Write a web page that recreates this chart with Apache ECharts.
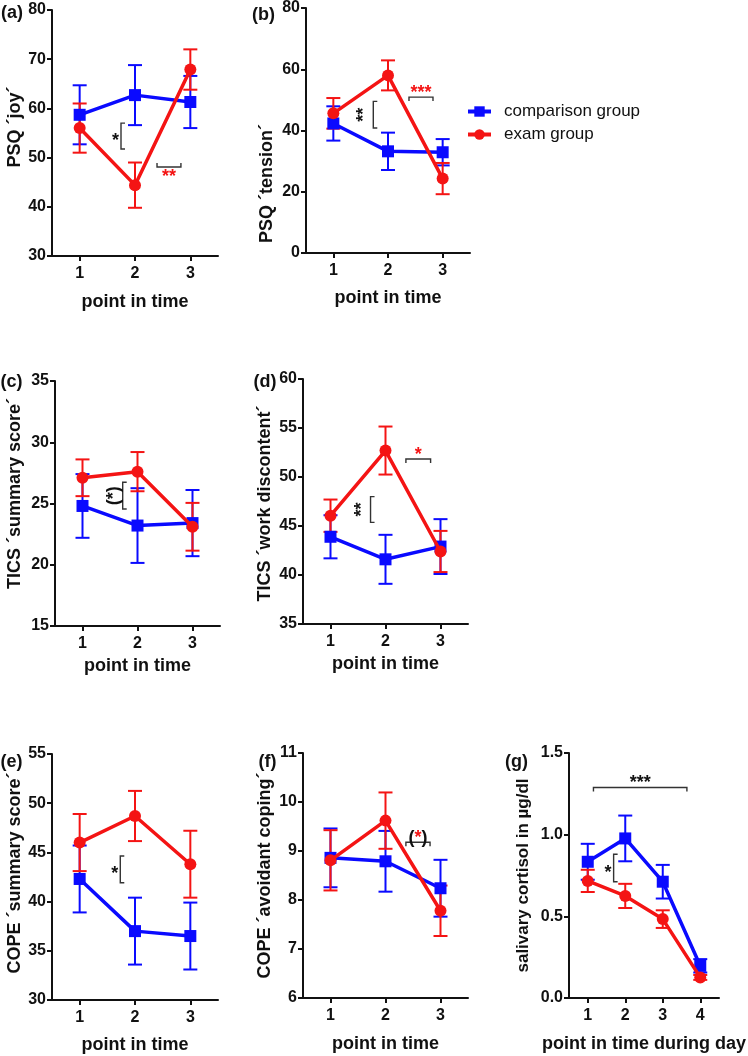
<!DOCTYPE html>
<html>
<head>
<meta charset="utf-8">
<script src="https://cdn.jsdelivr.net/npm/echarts@6/dist/echarts.min.js"></script>
<style>
html,body{margin:0;padding:0;background:#fff;}
#chart{width:748px;height:1056px;}
</style>
</head>
<body>
<div id="chart"></div>
<script>
// ---------------- DATA ----------------
const timeCats = ['1', '2', '3'];
const dayCats = ['1', '2', '3', '4'];
const groupNames = ['comparison group', 'exam group'];

// (a) PSQ joy
const aComp = [58.7, 62.7, 61.3];
const aCompErr = [6.0, 6.1, 5.3];
const aExam = [56.0, 44.4, 67.9];
const aExamErr = [5.0, 4.6, 4.1];
const aTicks = [30, 40, 50, 60, 70, 80];

// (b) PSQ tension
const bComp = [42.3, 33.2, 32.9];
const bCompErr = [5.6, 6.1, 4.3];
const bExam = [45.6, 58.0, 24.3];
const bExamErr = [5.0, 4.9, 5.1];
const bTicks = [0, 20, 40, 60, 80];

// (c) TICS summary score
const cComp = [24.8, 23.2, 23.4];
const cCompErr = [2.6, 3.05, 2.7];
const cExam = [27.1, 27.6, 23.1];
const cExamErr = [1.5, 1.6, 1.95];
const cTicks = [15, 20, 25, 30, 35];

// (d) TICS work discontent
const dComp = [43.9, 41.6, 42.9];
const dCompErr = [2.2, 2.5, 2.8];
const dExam = [46.05, 52.7, 42.4];
const dExamErr = [1.65, 2.45, 2.1];
const dTicks = [35, 40, 45, 50, 55, 60];

// (e) COPE summary score
const eComp = [42.3, 37.0, 36.5];
const eCompErr = [3.4, 3.4, 3.4];
const eExam = [46.0, 48.7, 43.8];
const eExamErr = [2.9, 2.55, 3.4];
const eTicks = [30, 35, 40, 45, 50, 55];

// (f) COPE avoidant coping
const fComp = [8.86, 8.79, 8.24];
const fCompErr = [0.6, 0.62, 0.58];
const fExam = [8.81, 9.62, 7.78];
const fExamErr = [0.615, 0.575, 0.515];
const fTicks = [6, 7, 8, 9, 10, 11];

// (g) salivary cortisol
const gComp = [0.834, 0.977, 0.712, 0.197];
const gCompErr = [0.11, 0.14, 0.103, 0.041];
const gExam = [0.717, 0.625, 0.483, 0.126];
const gExamErr = [0.068, 0.074, 0.054, 0.015];
const gTicks = [0.0, 0.5, 1.0, 1.5];

// significance annotations: [kind, x1, x2, y1, y2, text, colour, extra]
const aNotes = [['v', 1.747, 1.747, 51.75, 57.0, '*', 'k', ''], ['h', 2.398, 2.83, 48.1, 48.1, '**', 'r', 'up']];
const bNotes = [['v', 1.731, 1.731, 40.8, 49.5, '**', 'k', 'rot'], ['h', 2.384, 2.823, 50.9, 50.9, '***', 'r', 'down']];
const cNotes = [['v', 1.731, 1.731, 24.55, 26.73, '(*)', 'k', 'rot']];
const dNotes = [['v', 1.728, 1.728, 45.37, 48.0, '**', 'k', 'rot'], ['h', 2.371, 2.82, 51.84, 51.84, '*', 'r', 'down']];
const eNotes = [['v', 1.734, 1.734, 41.92, 44.63, '*', 'k', '']];
const fNotes = [['h', 2.371, 2.81, 9.18, 9.18, '(*)', 'mix', 'down']];
const gNotes = [['v', 1.69, 1.69, 0.712, 0.88, '*', 'k', ''], ['h', 1.152, 3.644, 1.289, 1.289, '***', 'k', 'down']];

const yNames = ['PSQ \u00B4joy\u00B4', 'PSQ \u00B4tension\u00B4', 'TICS \u00B4summary score\u00B4', 'TICS \u00B4work discontent\u00B4',
  'COPE \u00B4summary score\u00B4', 'COPE \u00B4avoidant coping\u00B4', 'salivary cortisol in \u00B5g/dl'];
const xNames = ['point in time', 'point in time', 'point in time', 'point in time', 'point in time', 'point in time', 'point in time during day'];
const panelTags = ['(a)', '(b)', '(c)', '(d)', '(e)', '(f)', '(g)'];

// ---------------- STYLE / LAYOUT ----------------
const BLUE = '#0a0aff';
const RED = '#f41414';
const FONT = '"Liberation Sans", Arial, Helvetica, sans-serif';

const panels = [
  {cats: timeCats, comp: aComp, compErr: aCompErr, exam: aExam, examErr: aExamErr, ticks: aTicks, notes: aNotes,
   grid: {left: 52, top: 10, width: 166, height: 246}, yGap: 28, yShift: -6, xGap: 37, yFont: 18, tag: [12, 13]},
  {cats: timeCats, comp: bComp, compErr: bCompErr, exam: bExam, examErr: bExamErr, ticks: bTicks, notes: bNotes,
   grid: {left: 306, top: 8, width: 164, height: 245}, yGap: 30, yShift: 53, xGap: 36, yFont: 18, tag: [263.5, 15]},
  {cats: timeCats, comp: cComp, compErr: cCompErr, exam: cExam, examErr: cExamErr, ticks: cTicks, notes: cNotes,
   grid: {left: 55, top: 381, width: 165, height: 245}, yGap: 31, yShift: -10, xGap: 31, yFont: 18, tag: [11.5, 382]},
  {cats: timeCats, comp: dComp, compErr: dCompErr, exam: dExam, examErr: dExamErr, ticks: dTicks, notes: dNotes,
   grid: {left: 303, top: 379, width: 165, height: 245}, yGap: 29, yShift: 2, xGap: 31, yFont: 18, tag: [265, 382]},
  {cats: timeCats, comp: eComp, compErr: eCompErr, exam: eExam, examErr: eExamErr, ticks: eTicks, notes: eNotes,
   grid: {left: 52, top: 754, width: 166, height: 246}, yGap: 28, yShift: -4, xGap: 36, yFont: 18, tag: [11.5, 762]},
  {cats: timeCats, comp: fComp, compErr: fCompErr, exam: fExam, examErr: fExamErr, ticks: fTicks, notes: fNotes,
   grid: {left: 303, top: 753, width: 165, height: 245}, yGap: 29, yShift: 0, xGap: 37, yFont: 18, tag: [267.5, 762]},
  {cats: dayCats, comp: gComp, compErr: gCompErr, exam: gExam, examErr: gExamErr, ticks: gTicks, notes: gNotes,
   grid: {left: 569, top: 753, width: 164, height: 245}, yGap: 37, yShift: 0, xGap: 37, yFont: 17, tag: [516.5, 762], dec: 1}
];

function errRender(color) {
  return function (params, api) {
    const x = api.value(0), lo = api.value(1), hi = api.value(2);
    const pLo = api.coord([x, lo]), pHi = api.coord([x, hi]);
    const w = 7;
    const st = {stroke: color, lineWidth: 2, fill: null};
    return {type: 'group', children: [
      {type: 'line', shape: {x1: pLo[0], y1: pLo[1], x2: pHi[0], y2: pHi[1]}, style: st},
      {type: 'line', shape: {x1: pLo[0] - w, y1: pLo[1], x2: pLo[0] + w, y2: pLo[1]}, style: st},
      {type: 'line', shape: {x1: pHi[0] - w, y1: pHi[1], x2: pHi[0] + w, y2: pHi[1]}, style: st}
    ]};
  };
}

const NOTE_FONT = 'bold 18px ' + FONT;
function noteRender(notes) {
  return function (params, api) {
    const n = notes[params.dataIndex];
    const p1 = api.coord([n[1], n[3]]);
    const p2 = api.coord([n[2], n[4]]);
    const lineSt = {stroke: '#333', lineWidth: 1.4, fill: null};
    const col = n[6] === 'r' ? RED : '#111';
    const children = [];
    let textEl;
    const baseStyle = {text: n[5], fill: col, font: NOTE_FONT};
    if (n[6] === 'mix') {
      baseStyle.text = '{k|(}{r|*}{k|)}';
      baseStyle.rich = {k: {fill: '#111', font: NOTE_FONT}, r: {fill: RED, font: NOTE_FONT}};
    }
    if (n[0] === 'v') {
      const x = p1[0];
      const yA = Math.min(p1[1], p2[1]), yB = Math.max(p1[1], p2[1]);
      children.push({type: 'polyline', shape: {points: [[x + 4, yA], [x, yA], [x, yB], [x + 4, yB]]}, style: lineSt});
      if (n[7] === 'rot') {
        textEl = {type: 'text', x: x - 9, y: (yA + yB) / 2, rotation: Math.PI / 2,
          style: Object.assign(baseStyle, {align: 'center', verticalAlign: 'middle'})};
      } else {
        textEl = {type: 'text', x: x - 2, y: (yA + yB) / 2 + 5,
          style: Object.assign(baseStyle, {align: 'right', verticalAlign: 'middle'})};
      }
    } else {
      const y = p1[1];
      const xA = p1[0], xB = p2[0];
      const dy = n[7] === 'up' ? -4 : 4;
      children.push({type: 'polyline', shape: {points: [[xA, y + dy], [xA, y], [xB, y], [xB, y + dy]]}, style: lineSt});
      if (n[7] === 'up') {
        textEl = {type: 'text', x: (xA + xB) / 2, y: y + 1,
          style: Object.assign(baseStyle, {align: 'center', verticalAlign: 'top'})};
      } else {
        textEl = {type: 'text', x: (xA + xB) / 2, y: y + 5,
          style: Object.assign(baseStyle, {align: 'center', verticalAlign: 'bottom'})};
      }
    }
    children.push(textEl);
    return {type: 'group', children: children};
  };
}

const grids = [], xAxes = [], yAxes = [], series = [], graphics = [];

panels.forEach(function (p, i) {
  grids.push(Object.assign({containLabel: false}, p.grid));
  const n = p.cats.length;
  const idx = p.cats.map(function (c, k) { return k + 1; });
  xAxes.push({
    type: 'value', gridIndex: i, min: 0.5, max: n + 0.5,
    name: xNames[i], nameLocation: 'middle', nameGap: p.xGap,
    nameTextStyle: {fontFamily: FONT, fontWeight: 'bold', fontSize: 18, color: '#111'},
    axisLine: {show: true, onZero: false, lineStyle: {color: '#111', width: 2}},
    axisTick: {show: true, customValues: idx, length: 5, lineStyle: {color: '#111', width: 2}},
    axisLabel: {show: true, customValues: idx, margin: 10, fontFamily: FONT, fontWeight: 'bold', fontSize: 16, color: '#111',
      formatter: function (v) { return p.cats[Math.round(v) - 1]; }},
    splitLine: {show: false}
  });
  const t = p.ticks;
  yAxes.push({
    type: 'value', gridIndex: i, min: t[0], max: t[t.length - 1], interval: t[1] - t[0],
    name: yNames[i], nameLocation: 'middle', nameGap: p.yGap,
    nameTextStyle: {fontFamily: FONT, fontWeight: 'bold', fontSize: p.yFont, color: '#111',
      padding: p.yShift >= 0 ? [0, 2 * p.yShift, 0, 0] : [0, 0, 0, -2 * p.yShift]},
    axisLine: {show: true, onZero: false, lineStyle: {color: '#111', width: 2}},
    axisTick: {show: true, length: 5, lineStyle: {color: '#111', width: 2}},
    axisLabel: {show: true, margin: 6, fontFamily: FONT, fontWeight: 'bold', fontSize: 16, color: '#111',
      formatter: function (v) { return p.dec ? v.toFixed(p.dec) : String(v); }},
    splitLine: {show: false}
  });
  // error bars
  series.push({
    type: 'custom', xAxisIndex: i, yAxisIndex: i, z: 2, silent: true,
    data: p.comp.map(function (m, k) { return [k + 1, m - p.compErr[k], m + p.compErr[k]]; }),
    encode: {x: 0, y: [1, 2]}, renderItem: errRender(BLUE)
  });
  series.push({
    type: 'custom', xAxisIndex: i, yAxisIndex: i, z: 3, silent: true,
    data: p.exam.map(function (m, k) { return [k + 1, m - p.examErr[k], m + p.examErr[k]]; }),
    encode: {x: 0, y: [1, 2]}, renderItem: errRender(RED)
  });
  // lines
  series.push({
    type: 'line', name: groupNames[0], xAxisIndex: i, yAxisIndex: i, z: 4,
    data: p.comp.map(function (m, k) { return [k + 1, m]; }),
    symbol: 'rect', symbolSize: 12, color: BLUE,
    lineStyle: {width: 3.5, color: BLUE}, itemStyle: {color: BLUE}
  });
  series.push({
    type: 'line', name: groupNames[1], xAxisIndex: i, yAxisIndex: i, z: 5,
    data: p.exam.map(function (m, k) { return [k + 1, m]; }),
    symbol: 'circle', symbolSize: 12, color: RED,
    lineStyle: {width: 3.5, color: RED}, itemStyle: {color: RED}
  });
  // annotations
  series.push({
    type: 'custom', xAxisIndex: i, yAxisIndex: i, z: 6, silent: true,
    data: p.notes.map(function (nt) { return [nt[1], nt[3], nt[2], nt[4]]; }),
    encode: {x: [0, 2], y: [1, 3]}, renderItem: noteRender(p.notes)
  });
  graphics.push({
    type: 'text', x: p.tag[0], y: p.tag[1],
    style: {text: panelTags[i], fill: '#111', font: 'bold 18px ' + FONT, align: 'center', verticalAlign: 'middle'}
  });
});

const chart = echarts.init(document.getElementById('chart'), null, {renderer: 'canvas'});
chart.setOption({
  animation: false,
  backgroundColor: '#ffffff',
  grid: grids,
  xAxis: xAxes,
  yAxis: yAxes,
  series: series,
  graphic: graphics,
  legend: {
    data: groupNames, orient: 'vertical', left: 466, top: 103, padding: 0,
    itemWidth: 23, itemHeight: 13, itemGap: 6,
    lineStyle: {width: 4},
    textStyle: {fontFamily: FONT, fontSize: 17, color: '#111', padding: [0, 0, 0, 8]}
  }
});
</script>
</body>
</html>
